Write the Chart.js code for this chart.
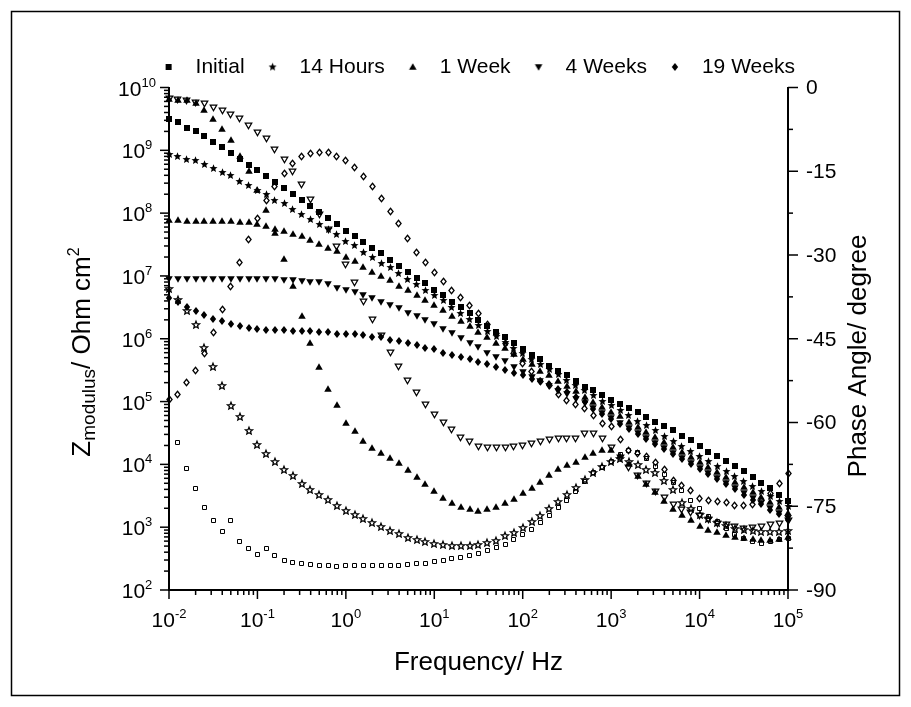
<!DOCTYPE html>
<html>
<head>
<meta charset="utf-8">
<script src="https://cdn.jsdelivr.net/npm/chart.js@4.4.3/dist/chart.umd.min.js"></script>
<style>
  html, body { margin: 0; padding: 0; background: #fff; }
</style>
</head>
<body>
<canvas id="bode" width="911" height="707"></canvas>
<script>
// Frecuencias del barrido (Hz), 10 puntos por década
const frecuencias = [
  0.01, 0.0126, 0.0158, 0.02, 0.0251, 0.0316, 0.0398, 0.0501, 0.0631, 0.0794,
  0.1, 0.126, 0.158, 0.2, 0.251, 0.316, 0.398, 0.501, 0.631, 0.794,
  1, 1.26, 1.58, 2, 2.51, 3.16, 3.98, 5.01, 6.31, 7.94,
  10, 12.6, 15.8, 20, 25.1, 31.6, 39.8, 50.1, 63.1, 79.4,
  100, 126, 158, 200, 251, 316, 398, 501, 631, 794,
  1000, 1260, 1580, 2000, 2510, 3160, 3980, 5010, 6310, 7940,
  10000, 12600, 15800, 20000, 25100, 31600, 39800, 50100, 63100, 79400,
  100000
];

const etiquetas = ['Initial', '14 Hours', '1 Week', '4 Weeks', '19 Weeks'];

// |Z| en Ohm cm2
const moduloInicial = [
  3.1e9, 2.8e9, 2.3e9, 2.0e9, 1.7e9, 1.35e9, 1.12e9, 8.9e8, 7.2e8, 5.8e8,
  4.8e8, 3.9e8, 3.1e8, 2.5e8, 2.0e8, 1.6e8, 1.3e8, 1.05e8, 8.3e7, 6.8e7,
  5.2e7, 4.3e7, 3.5e7, 2.8e7, 2.3e7, 1.8e7, 1.45e7, 1.15e7, 9.3e6, 7.6e6,
  6.0e6, 5.0e6, 3.9e6, 3.2e6, 2.6e6, 2.0e6, 1.6e6, 1.3e6, 1.07e6, 8.5e5,
  6.9e5, 5.6e5, 4.7e5, 3.7e5, 3.1e5, 2.6e5, 2.1e5, 1.7e5, 1.55e5, 1.26e5,
  1.07e5, 9.1e4, 7.9e4, 6.8e4, 5.6e4, 4.8e4, 4.1e4, 3.5e4, 2.8e4, 2.4e4,
  1.95e4, 1.6e4, 1.35e4, 1.12e4, 9.3e3, 7.8e3, 6.3e3, 5.1e3, 4.2e3, 3.3e3,
  2.6e3
];
const modulo14h = [
  8.7e8, 8.1e8, 7.2e8, 6.8e8, 5.9e8, 5.2e8, 4.5e8, 3.9e8, 3.2e8, 2.75e8,
  2.3e8, 1.95e8, 1.6e8, 1.4e8, 1.15e8, 9.5e7, 7.9e7, 6.6e7, 5.5e7, 4.6e7,
  3.5e7, 3.0e7, 2.4e7, 2.0e7, 1.6e7, 1.35e7, 1.1e7, 8.7e6, 7.2e6, 5.9e6,
  4.9e6, 4.0e6, 3.2e6, 2.5e6, 2.0e6, 1.6e6, 1.3e6, 1.07e6, 8.7e5, 6.9e5,
  5.8e5, 4.7e5, 3.9e5, 3.2e5, 2.7e5, 2.2e5, 1.8e5, 1.5e5, 1.23e5, 1.02e5,
  8.5e4, 7.1e4, 5.9e4, 4.9e4, 4.1e4, 3.4e4, 2.8e4, 2.3e4, 1.95e4, 1.6e4,
  1.35e4, 1.12e4, 9.3e3, 7.8e3, 6.5e3, 5.4e3, 4.5e3, 3.7e3, 3.1e3, 2.6e3,
  2.1e3
];
const modulo1sem = [
  7.7e7, 7.7e7, 7.6e7, 7.6e7, 7.6e7, 7.6e7, 7.5e7, 7.4e7, 7.2e7, 7.1e7,
  6.8e7, 6.2e7, 5.5e7, 5.1e7, 4.7e7, 4.3e7, 3.8e7, 3.2e7, 2.8e7, 2.45e7,
  2.0e7, 1.7e7, 1.4e7, 1.15e7, 9.8e6, 8.5e6, 6.9e6, 6.0e6, 5.0e6, 4.2e6,
  3.5e6, 2.9e6, 2.3e6, 1.95e6, 1.6e6, 1.3e6, 1.07e6, 8.5e5, 7.1e5, 5.8e5,
  4.7e5, 3.9e5, 3.1e5, 2.6e5, 2.1e5, 1.8e5, 1.5e5, 1.2e5, 1.0e5, 8.3e4,
  6.9e4, 5.8e4, 4.8e4, 4.0e4, 3.3e4, 2.75e4, 2.3e4, 1.9e4, 1.6e4, 1.3e4,
  1.1e4, 9.1e3, 7.6e3, 6.3e3, 5.2e3, 4.4e3, 3.6e3, 3.0e3, 2.5e3, 2.1e3,
  1.7e3
];
const modulo4sem = [
  8.9e6, 9.0e6, 8.9e6, 8.9e6, 8.9e6, 8.9e6, 8.9e6, 8.9e6, 8.8e6, 8.8e6,
  8.8e6, 8.8e6, 8.8e6, 8.7e6, 8.5e6, 8.3e6, 8.1e6, 7.9e6, 7.4e6, 6.5e6,
  5.9e6, 5.5e6, 4.9e6, 4.5e6, 3.9e6, 3.5e6, 3.1e6, 2.6e6, 2.3e6, 2.0e6,
  1.7e6, 1.45e6, 1.23e6, 1.02e6, 8.5e5, 7.4e5, 6.0e5, 5.2e5, 4.4e5, 3.6e5,
  3.0e5, 2.5e5, 2.1e5, 1.75e5, 1.5e5, 1.3e5, 1.1e5, 9.5e4, 7.9e4, 6.6e4,
  5.5e4, 4.6e4, 3.8e4, 3.2e4, 2.6e4, 2.2e4, 1.8e4, 1.5e4, 1.26e4, 1.05e4,
  8.7e3, 7.2e3, 6.0e3, 5.0e3, 4.2e3, 3.5e3, 2.9e3, 2.4e3, 2.0e3, 1.66e3,
  1.38e3
];
const modulo19sem = [
  4.5e6, 3.8e6, 3.2e6, 2.8e6, 2.4e6, 2.1e6, 1.9e6, 1.7e6, 1.6e6, 1.48e6,
  1.45e6, 1.38e6, 1.38e6, 1.38e6, 1.35e6, 1.35e6, 1.32e6, 1.29e6, 1.26e6, 1.2e6,
  1.17e6, 1.17e6, 1.15e6, 1.07e6, 1.05e6, 9.5e5, 9.1e5, 8.5e5, 7.9e5, 7.2e5,
  6.8e5, 6.0e5, 5.6e5, 5.1e5, 4.7e5, 4.3e5, 3.9e5, 3.5e5, 3.2e5, 2.8e5,
  2.6e5, 2.3e5, 2.1e5, 1.9e5, 1.6e5, 1.4e5, 1.17e5, 9.8e4, 7.6e4, 6.3e4,
  5.2e4, 4.4e4, 3.6e4, 3.0e4, 2.5e4, 2.1e4, 1.74e4, 1.45e4, 1.2e4, 1.0e4,
  8.3e3, 6.9e3, 5.8e3, 4.8e3, 4.0e3, 3.3e3, 2.75e3, 2.3e3, 1.9e3, 1.6e3,
  1.3e3
];

// Ángulo de fase en grados (eje derecho)
const faseInicial = [
  null, -63.6, -68.2, -71.8, -75.3, -77.5, -79.6, -77.5, -81.4, -82.5,
  -83.6, -82.5, -83.9, -84.8, -85.0, -85.2, -85.5, -85.7, -85.7, -85.8,
  -85.7, -85.7, -85.7, -85.7, -85.7, -85.7, -85.6, -85.4, -85.3, -85.2,
  -84.9, -84.7, -84.4, -84.1, -83.9, -83.5, -83.0, -82.4, -81.8, -80.9,
  -80.0, -79.1, -77.9, -76.7, -75.2, -73.9, -72.4, -70.5, -69.0, -68.0,
  -67.0, -65.8, -65.0, -65.3, -66.4, -67.8, -69.4, -70.8, -72.1, -73.9,
  -75.4, -76.8, -77.8, -79.0, -80.0, -80.8, -81.3, -81.6, -81.3, -80.9,
  -80.7
];
const fase14h = [
  -36.0, -38.0, -40.0, -42.5, -46.7, -50.0, -53.4, -57.0, -59.1, -61.6,
  -64.0, -65.6, -67.1, -68.5, -69.6, -71.1, -72.1, -73.0, -73.9, -74.9,
  -75.8, -76.6, -77.3, -78.0, -78.8, -79.4, -80.0, -80.6, -81.0, -81.4,
  -81.8, -82.0, -82.1, -82.2, -82.1, -81.9, -81.6, -81.2, -80.4, -79.8,
  -78.9, -77.9, -76.7, -75.5, -74.3, -73.0, -71.7, -70.3, -69.0, -68.0,
  -67.0, -66.5, -67.0, -67.6, -68.5, -69.1, -70.5, -72.0, -74.5, -75.5,
  -76.5, -77.3, -78.0, -78.5, -79.0, -79.3, -79.5, -79.6, -79.7, -79.6,
  -79.5
];
const fase1sem = [
  -2.0, -2.2, -2.3, -2.75, -3.95, -5.6, -7.5, -9.45, -12.3, -15.0,
  -18.3, -21.9, -26.0, -30.8, -35.6, -40.9, -45.8, -50.0, -54.0, -56.8,
  -60.0, -61.6, -63.4, -64.6, -65.5, -66.4, -67.3, -68.5, -69.8, -71.0,
  -72.3, -73.5, -74.5, -75.2, -75.5, -75.8, -75.5, -75.2, -74.5, -73.7,
  -72.7, -71.8, -70.6, -69.4, -68.4, -67.6, -67.0, -66.2, -65.5, -65.0,
  -65.0, -66.0, -67.5, -69.5, -71.0, -72.5, -74.0, -75.5, -76.5, -77.5,
  -78.5, -79.2, -79.7, -80.2, -80.5, -80.6, -80.8, -81.0, -81.0, -80.8,
  -80.5
];
const fase4sem = [
  -2.0, -2.2, -2.3, -2.75, -2.9, -3.5, -4.1, -4.8, -5.6, -6.8,
  -8.0, -9.2, -11.1, -12.9, -15.0, -17.3, -20.0, -22.8, -25.5, -28.5,
  -31.7, -35.0, -38.3, -41.5, -44.5, -47.5, -50.0, -52.5, -54.7, -56.7,
  -58.5, -60.0, -61.3, -62.6, -63.4, -64.3, -64.5, -64.5, -64.5, -64.3,
  -64.2, -63.7, -63.4, -63.1, -62.8, -62.8, -62.8, -62.0, -61.9, -62.8,
  -64.5, -66.2, -68.0, -69.5, -71.0, -72.3, -73.5, -74.7, -75.6, -76.2,
  -76.7, -77.4, -78.0, -78.3, -78.6, -79.0, -78.8, -78.6, -78.3, -78.0,
  -77.5
];
const fase19sem = [
  -55.9, -55.0, -52.9, -50.7, -47.6, -43.9, -39.8, -35.6, -31.3, -27.3,
  -23.5, -20.3, -17.7, -15.4, -13.6, -12.3, -11.9, -11.6, -11.7, -12.3,
  -13.1, -14.4, -15.9, -17.8, -19.9, -22.2, -24.4, -27.0, -29.5, -31.4,
  -33.2, -34.8, -36.3, -37.6, -39.0, -40.5, -42.4, -44.0, -45.8, -47.6,
  -49.4, -50.9, -52.7, -53.4, -54.9, -56.1, -56.8, -57.5, -58.8, -60.1,
  -60.7, -63.0, -65.0, -65.6, -66.1, -67.2, -68.5, -70.3, -71.2, -72.1,
  -73.6, -73.9, -74.2, -74.3, -74.9, -74.8, -74.6, -73.9, -72.7, -70.9,
  -69.1
];

// Ticks de los ejes
const exponentesX = [-2, -1, 0, 1, 2, 3, 4, 5];
const exponentesY = [2, 3, 4, 5, 6, 7, 8, 9, 10];
const ticksFase = [0, -15, -30, -45, -60, -75, -90];

const familia = "'Liberation Sans', Arial, Helvetica, sans-serif";
const TAM_TICK = 21;
const TAM_EXP = 13;

Chart.defaults.font.family = familia;
Chart.defaults.color = '#000';

/**
 * Crea un marcador (canvas) para usar como pointStyle.
 */
function crearMarcador(forma, lleno, tam) {
  const lado = Math.ceil(tam) + 4;
  const c = document.createElement('canvas');
  c.width = lado;
  c.height = lado;
  const g = c.getContext('2d');
  const m = lado / 2;
  const r = tam / 2;
  g.beginPath();
  switch (forma) {
    case 'cuadrado':
      if (lleno) {
        g.rect(m - r, m - r, tam, tam);
      } else {
        // alineado a medio pixel para que el borde quede nítido
        const a = Math.round(m - r) + 0.5;
        g.rect(a, a, Math.round(tam) - 1, Math.round(tam) - 1);
      }
      break;
    case 'triangulo':
      g.moveTo(m, m - r);
      g.lineTo(m + r, m + r * 0.75);
      g.lineTo(m - r, m + r * 0.75);
      break;
    case 'trianguloInv':
      g.moveTo(m, m + r);
      g.lineTo(m + r, m - r * 0.75);
      g.lineTo(m - r, m - r * 0.75);
      break;
    case 'rombo':
      g.moveTo(m, m - r);
      g.lineTo(m + r * 0.8, m);
      g.lineTo(m, m + r);
      g.lineTo(m - r * 0.8, m);
      break;
    case 'estrella':
      for (let i = 0; i < 10; i++) {
        const ang = -Math.PI / 2 + i * Math.PI / 5;
        const rr = i % 2 === 0 ? r : r * 0.45;
        g.lineTo(m + rr * Math.cos(ang), m + rr * Math.sin(ang));
      }
      break;
  }
  g.closePath();
  if (lleno) {
    g.fillStyle = '#000';
    g.fill();
  } else {
    g.strokeStyle = '#000';
    g.lineWidth = forma === 'cuadrado' ? 1 : 1.25;
    g.stroke();
  }
  return c;
}

const marcadores = {
  cuadrado: crearMarcador('cuadrado', true, 6),
  estrella: crearMarcador('estrella', true, 8.5),
  triangulo: crearMarcador('triangulo', true, 7.5),
  trianguloInv: crearMarcador('trianguloInv', true, 7.5),
  rombo: crearMarcador('rombo', true, 8),
  cuadradoAb: crearMarcador('cuadrado', false, 5),
  estrellaAb: crearMarcador('estrella', false, 7.5),
  trianguloInvAb: crearMarcador('trianguloInv', false, 6.5),
  romboAb: crearMarcador('rombo', false, 6.5)
};

const puntos = (valores) => valores.map((v, i) => ({ x: frecuencias[i], y: v }));

function serie(label, valores, eje, estilo) {
  return {
    label: label,
    data: puntos(valores),
    yAxisID: eje,
    pointStyle: estilo,
    pointRadius: 3,
    clip: false
  };
}

const datasets = [
  serie(etiquetas[0], moduloInicial, 'y', marcadores.cuadrado),
  serie(etiquetas[1], modulo14h, 'y', marcadores.estrella),
  serie(etiquetas[2], modulo1sem, 'y', marcadores.triangulo),
  serie(etiquetas[3], modulo4sem, 'y', marcadores.trianguloInv),
  serie(etiquetas[4], modulo19sem, 'y', marcadores.rombo),
  serie(etiquetas[0] + ' phase', faseInicial, 'y2', marcadores.cuadradoAb),
  serie(etiquetas[1] + ' phase', fase14h, 'y2', marcadores.estrellaAb),
  serie(etiquetas[2] + ' phase', fase1sem, 'y2', marcadores.triangulo),
  serie(etiquetas[3] + ' phase', fase4sem, 'y2', marcadores.trianguloInvAb),
  serie(etiquetas[4] + ' phase', fase19sem, 'y2', marcadores.romboAb)
];

function linea(ctx, x1, y1, x2, y2) {
  ctx.beginPath();
  ctx.moveTo(x1, y1);
  ctx.lineTo(x2, y2);
  ctx.stroke();
}

// "10" con exponente en superíndice, centrado en cx
function dibujarPotencia(ctx, exp, cx, baseY) {
  const textoExp = String(exp);
  ctx.font = `${TAM_TICK}px ${familia}`;
  const anchoBase = ctx.measureText('10').width;
  ctx.font = `${TAM_EXP}px ${familia}`;
  const anchoExp = ctx.measureText(textoExp).width;
  const x0 = cx - (anchoBase + anchoExp) / 2;
  ctx.textAlign = 'left';
  ctx.textBaseline = 'alphabetic';
  ctx.font = `${TAM_TICK}px ${familia}`;
  ctx.fillText('10', x0, baseY);
  ctx.font = `${TAM_EXP}px ${familia}`;
  ctx.fillText(textoExp, x0 + anchoBase, baseY - 9);
}

// Texto rotado compuesto por partes (subíndices / superíndices)
function textoVertical(ctx, partes, x, y) {
  ctx.save();
  ctx.translate(x, y);
  ctx.rotate(-Math.PI / 2);
  ctx.textAlign = 'left';
  ctx.textBaseline = 'alphabetic';
  let total = 0;
  partes.forEach(p => {
    ctx.font = `${p.f}px ${familia}`;
    p.w = ctx.measureText(p.t).width;
    total += p.w;
  });
  let cursor = -total / 2;
  partes.forEach(p => {
    ctx.font = `${p.f}px ${familia}`;
    ctx.fillText(p.t, cursor, p.dy);
    cursor += p.w;
  });
  ctx.restore();
}

// Marcadores sin suavizado, como en el original
const marcadoresNitidos = {
  id: 'marcadoresNitidos',
  beforeDatasetsDraw(chart) {
    chart.ctx.save();
    chart.ctx.imageSmoothingEnabled = false;
  },
  afterDatasetsDraw(chart) {
    chart.ctx.restore();
  }
};

const decoracionEjes = {
  id: 'decoracionEjes',
  afterDraw(chart) {
    const { ctx, chartArea: area } = chart;
    const { x, y, y2 } = chart.scales;
    ctx.save();
    ctx.strokeStyle = '#000';
    ctx.fillStyle = '#000';
    ctx.lineWidth = 1.5;

    // Eje X: marcas mayores y menores
    exponentesX.forEach(e => {
      for (let m = 1; m <= 9; m++) {
        const v = m * Math.pow(10, e);
        if (v > x.max * 1.001) break;
        const px = x.getPixelForValue(v);
        linea(ctx, px, area.bottom, px, area.bottom + (m === 1 ? 9 : 5));
      }
      dibujarPotencia(ctx, e, x.getPixelForValue(Math.pow(10, e)), 627);
    });

    // Eje Y izquierdo (log)
    exponentesY.forEach(e => {
      for (let m = 1; m <= 9; m++) {
        const v = m * Math.pow(10, e);
        if (v > y.max * 1.001) break;
        const py = y.getPixelForValue(v);
        linea(ctx, area.left, py, area.left - (m === 1 ? 9 : 5), py);
      }
      dibujarPotencia(ctx, e, 137, y.getPixelForValue(Math.pow(10, e)) + 8);
    });

    // Eje Y derecho (fase)
    ctx.font = `${TAM_TICK}px ${familia}`;
    ctx.textAlign = 'left';
    ctx.textBaseline = 'middle';
    ticksFase.forEach((v, i) => {
      const py = y2.getPixelForValue(v);
      linea(ctx, area.right, py, area.right + 10, py);
      ctx.fillText(String(v), area.right + 18, py + 1);
      if (i < ticksFase.length - 1) {
        const pm = y2.getPixelForValue(v - 7.5);
        linea(ctx, area.right, pm, area.right + 5, pm);
      }
    });

    // Títulos de los ejes
    ctx.font = `26px ${familia}`;
    ctx.textAlign = 'center';
    ctx.textBaseline = 'alphabetic';
    ctx.fillText('Frequency/ Hz', (area.left + area.right) / 2, 670);

    textoVertical(ctx, [
      { t: 'Z', f: 26, dy: 0 },
      { t: 'modulus', f: 19, dy: 5 },
      { t: '/ Ohm cm', f: 26, dy: 0 },
      { t: '2', f: 16, dy: -11 }
    ], 90, 352);

    textoVertical(ctx, [{ t: 'Phase Angle/ degree', f: 26, dy: 0 }], 866, 356);

    // Marco de la figura
    ctx.lineWidth = 1.5;
    ctx.strokeRect(11.5, 11.5, 888, 684);
    ctx.restore();
  }
};

const ejeComun = {
  grid: { display: false },
  border: { display: true, color: '#000', width: 2 },
  ticks: { display: false }
};

new Chart(document.getElementById('bode'), {
  type: 'scatter',
  data: { datasets: datasets },
  options: {
    responsive: false,
    animation: false,
    layout: { padding: { top: 45, left: 36, right: 0, bottom: 0 } },
    scales: {
      x: {
        ...ejeComun,
        type: 'logarithmic',
        position: 'bottom',
        min: 0.01,
        max: 100000,
        afterFit: (escala) => { escala.height = 117; }
      },
      y: {
        ...ejeComun,
        type: 'logarithmic',
        position: 'left',
        min: 100,
        max: 1e10,
        afterFit: (escala) => { escala.width = 133; }
      },
      y2: {
        ...ejeComun,
        type: 'linear',
        position: 'right',
        min: -90,
        max: 0,
        afterFit: (escala) => { escala.width = 123; }
      }
    },
    plugins: {
      tooltip: { enabled: false },
      legend: {
        position: 'top',
        labels: {
          usePointStyle: true,
          pointStyleWidth: 33,
          padding: 11.5,
          color: '#000',
          font: { size: 21 },
          filter: (item) => item.datasetIndex < 5
        }
      }
    }
  },
  plugins: [marcadoresNitidos, decoracionEjes]
});
</script>
</body>
</html>
